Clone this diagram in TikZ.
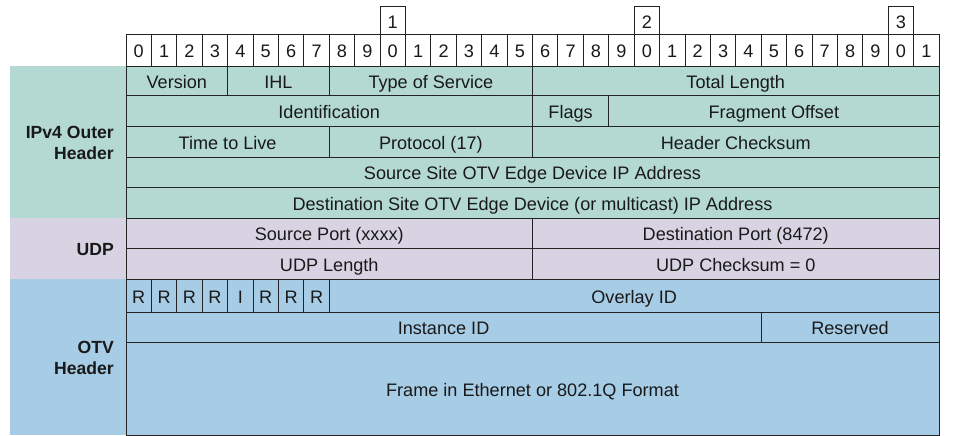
\documentclass[tikz,border=0pt]{standalone}
\usepackage{fontspec}
\setmainfont{Liberation Sans}
\definecolor{ipvc}{RGB}{179,217,210}
\definecolor{udpc}{RGB}{216,211,227}
\definecolor{otvc}{RGB}{167,204,230}
\definecolor{linec}{RGB}{35,35,35}
\definecolor{textc}{RGB}{25,25,25}
\newcommand\fld[7]{%
  \pgfmathsetmacro\myxa{126+(#2)*25.406}%
  \pgfmathsetmacro\myxb{126+(#3)*25.406}%
  \pgfmathsetmacro\myfw{\myxb-\myxa}%
  \pgfmathsetmacro\myfh{(#5)-(#4)}%
  \node[cell, fill=#6, minimum width=\myfw pt, minimum height=\myfh pt] (#1) at ({(\myxa+\myxb)/2},{((#4)+(#5))/2}) {#7};}
\begin{document}
\begin{tikzpicture}[x=1pt,y=-1pt,
  cell/.style={draw=linec, line width=0.85pt, inner sep=0pt, outer sep=0pt, text=textc,
    text height=18pt, text depth=3pt,
    font=\fontsize{18.1}{21}\selectfont},
  lab/.style={anchor=east, align=right, text=textc, inner sep=0pt,
    font=\fontsize{17.6}{21}\selectfont\bfseries}]
\useasboundingbox (0,0) rectangle (953,436);
% left panels
\fill[ipvc] (10,66) rectangle (126,218);
\fill[udpc] (10,218) rectangle (126,279);
\fill[otvc] (10,279) rectangle (126,435);
% top marker boxes
\fld{t1}{10}{11}{6}{34}{white}{\raisebox{-1pt}{1}}
\fld{t2}{20}{21}{6}{34}{white}{\raisebox{-1pt}{2}}
\fld{t3}{30}{31}{6}{34}{white}{\raisebox{-1pt}{3}}
% bit row
\foreach \i in {0,...,31} {
  \pgfmathtruncatemacro\bitd{mod(\i,10)}
  \fld{b\i}{\i}{\i+1}{34}{66}{white}{\bitd}
}
% IPv4 header
\fld{ver}{0}{4}{66}{95.8}{ipvc}{Version}
\fld{ihl}{4}{8}{66}{95.8}{ipvc}{IHL}
\fld{tos}{8}{16}{66}{95.8}{ipvc}{Type of Service}
\fld{tlen}{16}{32}{66}{95.8}{ipvc}{Total Length}
\fld{ident}{0}{16}{95.8}{126.4}{ipvc}{Identification}
\fld{flags}{16}{19}{95.8}{126.4}{ipvc}{Flags}
\fld{frag}{19}{32}{95.8}{126.4}{ipvc}{Fragment Offset}
\fld{ttl}{0}{8}{126.4}{157}{ipvc}{Time to Live}
\fld{proto}{8}{16}{126.4}{157}{ipvc}{Protocol (17)}
\fld{hcs}{16}{32}{126.4}{157}{ipvc}{Header Checksum}
\fld{src}{0}{32}{157}{187.6}{ipvc}{Source Site OTV Edge Device IP Address}
\fld{dst}{0}{32}{187.6}{218}{ipvc}{Destination Site OTV Edge Device (or multicast) IP Address}
% UDP
\fld{sport}{0}{16}{218}{248.5}{udpc}{Source Port (xxxx)}
\fld{dport}{16}{32}{218}{248.5}{udpc}{Destination Port (8472)}
\fld{ulen}{0}{16}{248.5}{279}{udpc}{UDP Length}
\fld{ucs}{16}{32}{248.5}{279}{udpc}{UDP Checksum = 0}
% OTV
\fld{r0}{0}{1}{279}{312}{otvc}{R}
\fld{r1}{1}{2}{279}{312}{otvc}{R}
\fld{r2}{2}{3}{279}{312}{otvc}{R}
\fld{r3}{3}{4}{279}{312}{otvc}{R}
\fld{r4}{4}{5}{279}{312}{otvc}{I}
\fld{r5}{5}{6}{279}{312}{otvc}{R}
\fld{r6}{6}{7}{279}{312}{otvc}{R}
\fld{r7}{7}{8}{279}{312}{otvc}{R}
\fld{ovl}{8}{32}{279}{312}{otvc}{Overlay ID}
\fld{inst}{0}{25}{312}{342}{otvc}{Instance ID}
\fld{resv}{25}{32}{312}{342}{otvc}{Reserved}
\fld{frame}{0}{32}{342}{435}{otvc}{Frame in Ethernet or 802.1Q Format}
% labels
\node[lab] (lipv4) at (114,143) {IPv4 Outer\\Header};
\node[lab] (ludp) at (114,250) {UDP};
\node[lab] (lotv) at (114,358) {OTV\\Header};
\end{tikzpicture}
\end{document}
